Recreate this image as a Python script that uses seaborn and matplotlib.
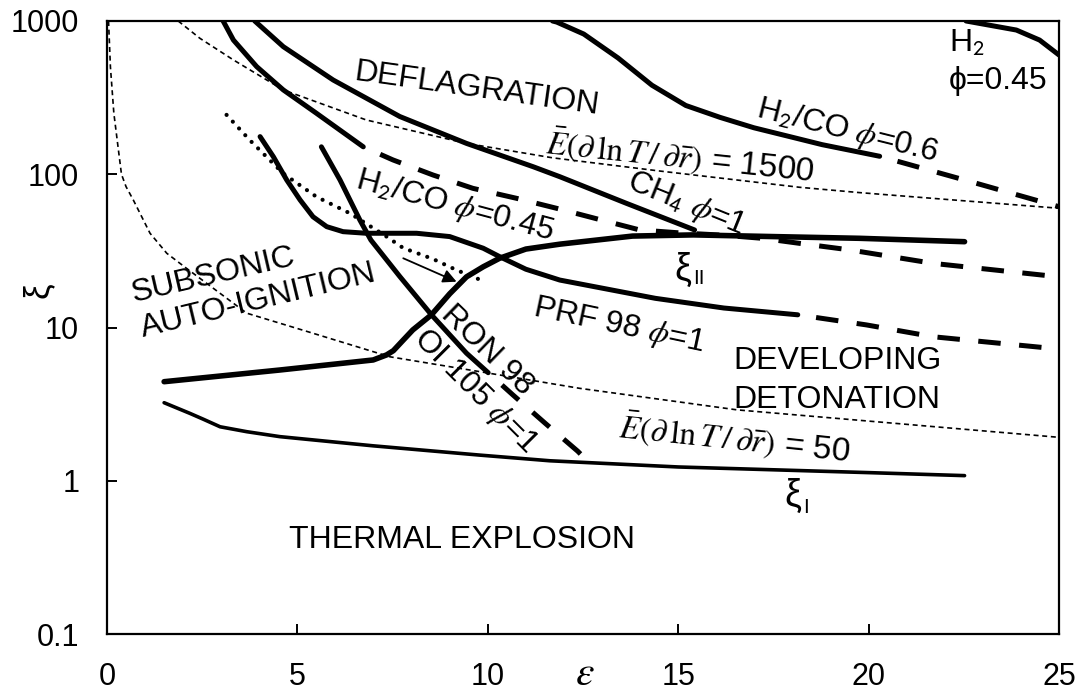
import matplotlib
matplotlib.use("Agg")
import matplotlib.pyplot as plt
from matplotlib.ticker import FixedLocator, FixedFormatter, NullLocator
import seaborn as sns

## regime diagram: xi against epsilon, xi on a log axis
## values

# lower boundary xi_l
xi_l_eps = [1.5, 2.18, 2.53, 2.97, 3.67, 4.54, 6.99, 9.79, 11.63, 15.0, 20.0, 22.52]
xi_l_val = [3.23, 2.75, 2.52, 2.25, 2.09, 1.94, 1.69, 1.47, 1.35, 1.23, 1.13, 1.08]

# upper boundary xi_u
xi_u_eps = [1.5, 4.54, 6.99, 7.34, 7.52, 7.78, 8.03, 8.52, 9.0, 9.44, 9.88, 10.31, 11.0, 11.9, 13.8, 15.4, 17.5, 19.76, 22.52]
xi_u_val = [4.43, 5.28, 6.14, 6.62, 7.06, 8.28, 9.64, 12.1, 16.6, 21.4, 24.9, 28.3, 32.5, 35.0, 39.5, 40.2, 39.2, 38.2, 36.3]

# E(dlnT/dr) = 50 and = 1500 (thin dashed)
e50_eps = [0.04, 0.09, 0.18, 0.30, 0.38, 0.50, 0.69, 1.13, 1.57, 2.09, 3.67, 5.41, 7.43, 9.79, 12.41, 16.55, 25.0]
e50_val = [1000, 500, 250, 144, 100, 83, 68, 41.2, 30.5, 24.3, 12.4, 9.17, 6.44, 5.15, 4.01, 2.90, 1.92]
e1500_eps = [1.87, 2.44, 3.32, 4.63, 6.81, 9.44, 11.7, 14.51, 18.19, 19.76, 25.0]
e1500_val = [1000, 771, 557, 355, 226, 159, 128, 105, 82.2, 75.9, 60.0]

# fuel mixtures: solid part, then dashed extension
h2co045_eps = [3.05, 3.32, 3.93, 4.63, 5.50, 6.73]
h2co045_val = [1000, 751, 504, 355, 250, 151]
h2co045_ext_eps = [6.73, 7.51, 8.56, 9.61, 10.75, 11.8, 12.9, 13.99, 15.0, 16.2, 17.2, 18.19, 19.5, 21.7, 25.0]
h2co045_ext_val = [151, 124, 98.9, 80.9, 69.7, 60.0, 50.9, 43.3, 41.5, 40.0, 38.2, 35.4, 32.1, 26.2, 21.4]

ch4_eps = [3.88, 4.63, 5.94, 7.69, 9.44, 11.19, 11.89, 13.64, 15.43]
ch4_val = [1000, 680, 412, 238, 159, 112, 96.4, 64.6, 43.3]

h2co06_eps = [11.7, 11.81, 12.52, 13.42, 14.31, 15.2, 16.1, 16.99, 17.89, 18.78, 20.29]
h2co06_val = [1000, 984, 822, 574, 381, 281, 235, 201, 177, 156, 131]
h2co06_ext_eps = [20.29, 22.83, 25.0]
h2co06_ext_val = [131, 87.3, 61.4]

h2_eps = [22.56, 23.88, 24.49, 25.0]
h2_val = [1000, 873, 751, 600]

prf_eps = [4.02, 4.37, 4.72, 5.07, 5.41, 5.77, 6.20, 6.81, 8.13, 9.0, 9.88, 10.31, 11.0, 11.89, 14.4, 16.2, 18.14]
prf_val = [176, 130, 91.7, 68, 52.8, 45.5, 42.2, 41.2, 41.2, 39.2, 32.9, 29.0, 24.0, 20.4, 15.5, 13.4, 12.1]
prf_ext_eps = [18.14, 19.94, 21.7, 24.83]
prf_ext_val = [12.1, 10.4, 8.7, 7.3]

ron_eps = [5.63, 6.12, 6.64, 6.93, 7.69, 8.52, 9.44, 10.01]
ron_val = [151, 91.7, 50.3, 37.2, 21.5, 12.1, 6.8, 5.07]
ron_ext_eps = [10.01, 10.66, 11.5, 12.36, 12.55]
ron_ext_val = [5.07, 3.63, 2.38, 1.56, 1.40]

# dotted path and arrow
dot_eps = [3.14, 3.75, 4.63, 5.50, 6.38, 7.34, 7.78, 8.56, 9.18, 9.88]
dot_val = [244, 167, 101, 71.3, 55.6, 39.2, 33.0, 28.0, 23.7, 20.1]
arrow_from = (7.78, 28.3)
arrow_to = (9.18, 19.9)

y_ticks = [0.1, 1, 10, 100, 1000]
y_ticklabels = ["0.1", "1", "10", "100", "1000"]
x_ticks = [0, 5, 10, 15, 20, 25]

sns.set_theme(style="white", rc={
    "axes.edgecolor": "black",
    "axes.linewidth": 1.6,
    "xtick.color": "black",
    "ytick.color": "black",
    "text.color": "black",
    "axes.labelcolor": "black",
})
plt.rcParams["font.family"] = ["Liberation Sans", "DejaVu Sans"]
plt.rcParams["mathtext.fontset"] = "stix"

fig = plt.figure(figsize=(10.84, 6.93), dpi=100)
ax = fig.add_axes([107 / 1084, 59 / 693, 952 / 1084, 613 / 693])

THICK = 3.6
DASH_GAP_FIRST = (4.5, (4.5, 3.7))


def draw(x, y, **kw):
    sns.lineplot(x=x, y=y, ax=ax, color="black", sort=False, estimator=None,
                 solid_capstyle="round", dash_capstyle="butt", **kw)


draw(e50_eps, e50_val, lw=1.2, linestyle=(0, (3, 2.2)))
draw(e1500_eps, e1500_val, lw=1.2, linestyle=(0, (3, 2.2)))

draw(xi_l_eps, xi_l_val, lw=2.6)
draw(xi_u_eps, xi_u_val, lw=4.0)

draw(h2co045_eps, h2co045_val, lw=THICK)
draw(h2co045_ext_eps, h2co045_ext_val, lw=THICK, linestyle=DASH_GAP_FIRST)
draw(ch4_eps, ch4_val, lw=THICK)
draw(h2co06_eps, h2co06_val, lw=THICK)
draw(h2co06_ext_eps, h2co06_ext_val, lw=THICK, linestyle=DASH_GAP_FIRST)
draw(h2_eps, h2_val, lw=THICK)
draw(prf_eps, prf_val, lw=THICK)
draw(prf_ext_eps, prf_ext_val, lw=THICK, linestyle=DASH_GAP_FIRST)
draw(ron_eps, ron_val, lw=THICK)
draw(ron_ext_eps, ron_ext_val, lw=THICK, linestyle=DASH_GAP_FIRST)

sns.lineplot(x=dot_eps, y=dot_val, ax=ax, color="black", sort=False, estimator=None,
             lw=3.0, linestyle=(0, (0.01, 2.2)), dash_capstyle="round")
ax.annotate("", xy=arrow_to, xytext=arrow_from,
            arrowprops=dict(arrowstyle="-|>", color="black", lw=1.3,
                            mutation_scale=20, shrinkA=0, shrinkB=0))

ax.set_yscale("log")
ax.set_xlim(0, 25)
ax.set_ylim(0.1, 1000)
ax.yaxis.set_major_locator(FixedLocator(y_ticks))
ax.yaxis.set_major_formatter(FixedFormatter(y_ticklabels))
ax.yaxis.set_minor_locator(NullLocator())
ax.xaxis.set_major_locator(FixedLocator(x_ticks))
ax.tick_params(axis="both", which="major", direction="in", length=7, width=1.4,
               labelsize=22, pad=20, left=True, bottom=True)

ax.set_xlabel(r"$\varepsilon$", fontsize=30, va="baseline")
ax.xaxis.set_label_coords(0.502, -0.084)
ax.set_ylabel("ξ", fontsize=25)
ax.yaxis.set_label_coords(-0.055, 0.561)

FS = 23
anc = dict(rotation_mode="anchor", fontsize=FS)

# region names
ax.text(9.72, 377, "DEFLAGRATION", rotation=-8, ha="center", va="center_baseline", **anc)
ax.text(9.31, 0.362, "THERMAL EXPLOSION", ha="center", va="baseline", fontsize=FS)
ax.text(16.44, 5.36, "DEVELOPING", ha="left", va="baseline", fontsize=FS)
ax.text(16.44, 2.99, "DETONATION", ha="left", va="baseline", fontsize=FS)
ax.text(0.69, 14.7, "SUBSONIC", rotation=13, ha="left", va="baseline", **anc)
ax.text(0.95, 8.71, "AUTO-IGNITION", rotation=13.5, ha="left", va="baseline", **anc)

# curve names
ax.text(9.16, 66.8, r"H$_{\mathsf{2}}$/CO $\phi$=0.45", rotation=-15, ha="center", va="center_baseline", **anc)
ax.text(19.48, 205, r"H$_{\mathsf{2}}$/CO $\phi$=0.6", rotation=-14, ha="center", va="center_baseline", **anc)
ax.text(15.26, 67.8, r"CH$_{\mathsf{4}}$ $\phi$=1", rotation=-22, ha="center", va="center_baseline", **anc)
ax.text(13.46, 10.9, r"PRF 98 $\phi$=1", rotation=-12, ha="center", va="center_baseline", **anc)
ax.text(10.05, 7.35, "RON 98", rotation=-44, ha="center", va="center_baseline", **anc)
ax.text(9.75, 4.01, r"OI 105 $\phi$=1", rotation=-45, ha="center", va="center_baseline", **anc)
ax.text(22.11, 631, r"H$_{\mathsf{2}}$", ha="left", va="baseline", fontsize=FS)
ax.text(22.11, 358, "ϕ=0.45", ha="left", va="baseline", fontsize=FS)
ax.text(15.07, 139, r"$\bar{E}(\partial\,\ln T\,/\,\partial\bar{r})$ = 1500", rotation=-6,
        ha="center", va="center_baseline", rotation_mode="anchor", fontsize=24)
ax.text(16.5, 1.99, r"$\bar{E}(\partial\,\ln T\,/\,\partial\bar{r})$ = 50", rotation=-6,
        ha="center", va="center_baseline", rotation_mode="anchor", fontsize=24)

# xi_II and xi_I marks: the letter plus an upright sans subscript
ax.text(14.91, 20.4, "ξ", ha="left", va="baseline", fontsize=27)
ax.annotate("II", xy=(14.91, 20.4), xytext=(13, -3), textcoords="offset points",
            ha="left", va="baseline", fontsize=15)
ax.text(17.8, 0.684, "ξ", ha="left", va="baseline", fontsize=27)
ax.annotate("I", xy=(17.8, 0.684), xytext=(13, -5), textcoords="offset points",
            ha="left", va="baseline", fontsize=15)

for s in ax.spines.values():
    s.set_visible(True)
    s.set_color("black")
    s.set_linewidth(1.6)

fig.savefig("out.png", dpi=100)
